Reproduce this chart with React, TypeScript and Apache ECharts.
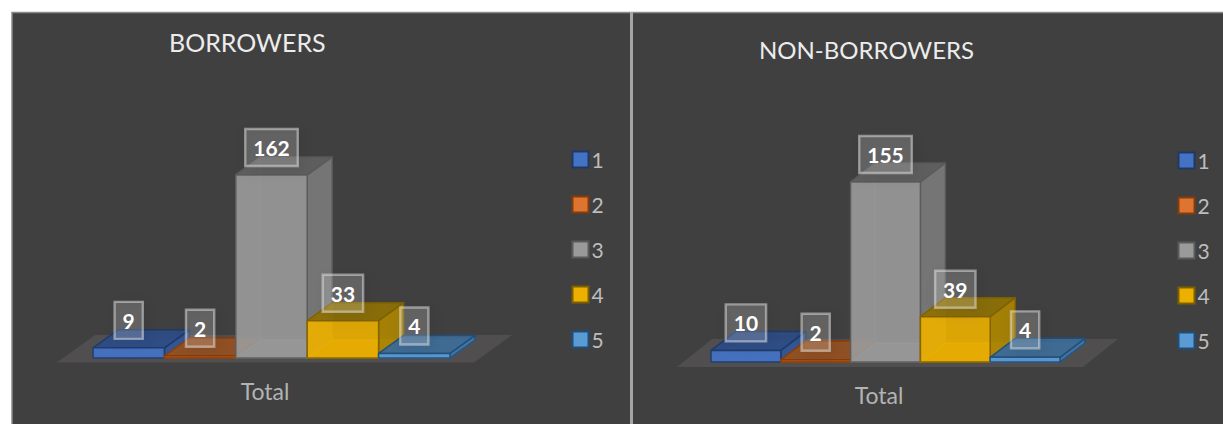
import React, { useEffect, useRef } from "react";
import * as echarts from "echarts";

const seriesNames = ["1", "2", "3", "4", "5"];
const categories = ["Total"];
const borrowers = [9, 2, 162, 33, 4];
const nonBorrowers = [10, 2, 155, 39, 4];

const FONT = "Lato, Carlito, 'Open Sans', sans-serif";

type Palette = { front: string; side: string; top: string; edge: string; legend: string };

const palettes: Palette[] = [
  { front: "#4472c4", side: "#2f5597", top: "#2c4c85", edge: "#203864", legend: "#4472c4" },
  { front: "#c55a11", side: "#a04c10", top: "#8f4f22", edge: "#843c0c", legend: "#dd7430" },
  { front: "#9a9a9a", side: "#797979", top: "#616161", edge: "#5a5a5a", legend: "#9a9a9a" },
  { front: "#ecb000", side: "#ad8500", top: "#8e7104", edge: "#7f6000", legend: "#ecb000" },
  { front: "#5b9bd5", side: "#3f75a8", top: "#3d6a94", edge: "#1f4e79", legend: "#5b9bd5" },
];

type Panel = {
  name: string;
  values: number[];
  grid: { left: number; width: number; top: number; height: number };
  yMax: number;
  depth: [number, number];
  floor: { front: number; back: number; left: number; right: number; skew: number };
  title: { left: number; top: number; size: number };
  legend: { left: number; top: number };
};

const panels: Panel[] = [
  {
    name: "BORROWERS",
    values: borrowers,
    grid: { left: 93, width: 357, top: 154.6, height: 203.4 },
    yMax: 180,
    depth: [25, -18],
    floor: { front: 4.5, back: -23, left: 36, right: 24, skew: 38 },
    title: { left: 169, top: 29, size: 25 },
    legend: { left: 571.5, top: 149 },
  },
  {
    name: "NON-BORROWERS",
    values: nonBorrowers,
    grid: { left: 711, width: 349, top: 153, height: 209 },
    yMax: 180,
    depth: [25, -19],
    floor: { front: 5, back: -23, left: 34, right: 23, skew: 35 },
    title: { left: 759, top: 37, size: 24 },
    legend: { left: 1177.5, top: 150 },
  },
];

function bar3d(index: number, palette: Palette, depth: [number, number]) {
  return (params: any, api: any) => {
    const value = api.value(1);
    const base = api.coord([0, 0]);
    const head = api.coord([0, value]);
    const band = api.size([1, 0])[0];
    const w = band / seriesNames.length;
    const x0 = base[0] + (index - seriesNames.length / 2) * w;
    const x1 = x0 + w;
    const y0 = base[1];
    const y1 = head[1];
    const [dx, dy] = depth;
    const poly = (
      points: number[][],
      fill: string,
      opacity: number,
      z2: number,
      edge = palette.edge
    ) => ({
      type: "polygon",
      shape: { points },
      style: { fill, opacity, stroke: edge, lineWidth: 1.5, lineJoin: "round" },
      z2: 10 + index * 6 + z2,
      silent: true,
    });
    const cx = (x0 + x1) / 2;
    return {
      type: "group",
      children: [
        // hidden faces show faintly through the translucent front
        poly([[x0, y0], [x1, y0], [x1 + dx, y0 + dy], [x0 + dx, y0 + dy]], palette.legend, 0.5, 0, palette.legend),
        poly([[x0 + dx, y0 + dy], [x0 + dx, y1 + dy], [x0, y1], [x0, y0]], palette.side, 0.25, 1, palette.legend),
        poly([[x1, y0], [x1 + dx, y0 + dy], [x1 + dx, y1 + dy], [x1, y1]], palette.side, 0.92, 2),
        poly([[x0, y1], [x1, y1], [x1 + dx, y1 + dy], [x0 + dx, y1 + dy]], palette.top, 0.92, 3),
        poly([[x0, y0], [x1, y0], [x1, y1], [x0, y1]], palette.front, 0.9, 4),
        {
          type: "text",
          x: cx,
          y: y1 - 27.5,
          z2: 100 + index,
          silent: true,
          style: {
            text: String(value),
            x: 0,
            y: 0,
            align: "center",
            verticalAlign: "middle",
            fill: "#ffffff",
            font: `bold 21px ${FONT}`,
            lineHeight: 25,
            padding: [6, 8, 6, 8],
            backgroundColor: "rgba(255,255,255,0.16)",
            borderColor: "rgba(225,225,225,0.5)",
            borderWidth: 1.2,
            shadowColor: "rgba(0,0,0,0.28)",
            shadowBlur: 14,
            shadowOffsetX: 3,
            shadowOffsetY: 3,
          },
        },
      ],
    };
  };
}

function floorPlane(panel: Panel) {
  return (params: any, api: any) => {
    const base = api.coord([0, 0]);
    const band = api.size([1, 0])[0];
    const xl = base[0] - band / 2 - panel.floor.left;
    const xr = base[0] + band / 2 + panel.floor.right;
    const yf = base[1] + panel.floor.front;
    const yb = base[1] + panel.floor.back;
    const s = panel.floor.skew;
    return {
      type: "polygon",
      shape: { points: [[xl, yf], [xr, yf], [xr + s, yb], [xl + s, yb]] },
      style: { fill: "#504e4e" },
      z2: 1,
      silent: true,
    };
  };
}

function buildOption() {
  const series: any[] = [];
  panels.forEach((panel, p) => {
    series.push({
      type: "custom",
      name: `${panel.name} floor`,
      xAxisIndex: p,
      yAxisIndex: p,
      data: [[0, 0]],
      encode: { x: 0, y: 1 },
      renderItem: floorPlane(panel),
      silent: true,
    });
    seriesNames.forEach((name, i) => {
      series.push({
        type: "custom",
        name,
        xAxisIndex: p,
        yAxisIndex: p,
        data: [[0, panel.values[i]]],
        encode: { x: 0, y: 1 },
        itemStyle: {
          color: palettes[i].legend,
          borderColor: palettes[i].edge,
          borderWidth: 2,
        },
        renderItem: bar3d(i, palettes[i], panel.depth),
      });
    });
  });

  return {
    animation: false,
    backgroundColor: "#ffffff",
    graphic: {
      elements: [
        {
          type: "rect",
          silent: true,
          z: -10,
          shape: { x: 12, y: 12.5, width: 1300, height: 500 },
          style: { fill: "#404040", stroke: "#8a8a8a", lineWidth: 1.5 },
        },
        {
          type: "rect",
          silent: true,
          z: -9,
          shape: { x: 630, y: 12, width: 3, height: 412 },
          style: { fill: "#a6a6a6" },
        },
      ],
    },
    title: panels.map((panel) => ({
      text: panel.name,
      left: panel.title.left,
      top: panel.title.top,
      padding: 0,
      textStyle: { color: "#ececec", fontFamily: FONT, fontWeight: "normal", fontSize: panel.title.size },
    })),
    legend: panels.map((panel) => ({
      data: seriesNames.map((name, i) => ({
        name,
        itemStyle: {
          color: palettes[i].legend,
          borderColor: palettes[i].edge,
          borderWidth: 2,
        },
      })),
      orient: "vertical",
      left: panel.legend.left,
      top: panel.legend.top,
      padding: 0,
      icon: "rect",
      itemWidth: 16,
      itemHeight: 16,
      itemGap: 24,
      selectedMode: false,
      textStyle: { color: "#bdbdbd", fontFamily: FONT, fontSize: 21, padding: [0, 0, 0, -2] },
    })),
    grid: panels.map((panel) => ({ ...panel.grid, containLabel: false })),
    xAxis: panels.map((panel, p) => ({
      type: "category",
      gridIndex: p,
      data: categories,
      axisLine: { show: false },
      axisTick: { show: false },
      axisLabel: {
        color: "#b3b3b3",
        fontFamily: FONT,
        fontSize: 23,
        margin: 21.5,
        padding: [0, 13, 0, 0],
      },
    })),
    yAxis: panels.map((panel, p) => ({
      type: "value",
      gridIndex: p,
      min: 0,
      max: panel.yMax,
      show: false,
    })),
    series,
  };
}

export default function App() {
  const ref = useRef<HTMLDivElement>(null);
  useEffect(() => {
    document.body.style.margin = "0";
    const chart = echarts.init(ref.current!, undefined, { renderer: "svg" });
    chart.setOption(buildOption());
    return () => chart.dispose();
  }, []);
  return <div ref={ref} style={{ width: 1223, height: 424 }} />;
}
